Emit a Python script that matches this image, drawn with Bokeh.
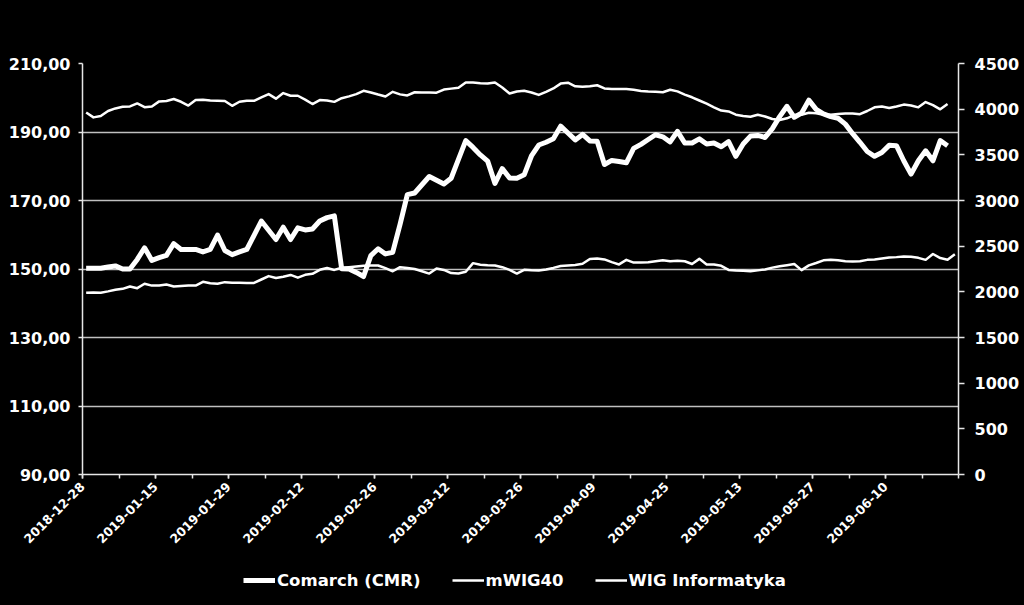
from bokeh.plotting import figure
from bokeh.layouts import column
from bokeh.models import Range1d, LinearAxis, FixedTicker, Legend, LegendItem
from bokeh.embed import file_html
from bokeh.resources import INLINE

# ---- data (trading-day index based category axis) ----
tick_dates = ["2018-12-28", "2019-01-15", "2019-01-29", "2019-02-12", "2019-02-26",
              "2019-03-12", "2019-03-26", "2019-04-09", "2019-04-25", "2019-05-13",
              "2019-05-27", "2019-06-10"]

series_names = ["Comarch (CMR)", "mWIG40", "WIG Informatyka"]

comarch = [150.2, 150.2, 150.2, 150.6, 150.9, 150.0, 150.0, 152.8, 156.2, 152.5,
           153.3, 154.0, 157.4, 155.7, 155.7, 155.7, 155.0, 155.7, 159.9, 155.4,
           154.2, 155.0, 155.7, 159.8, 164.0, 161.3, 158.6, 162.2, 158.6, 162.0,
           161.4, 161.7, 164.0, 165.0, 165.5, 150.1, 150.0, 149.0, 147.8, 153.9,
           155.9, 154.4, 154.9, 163.0, 171.7, 172.2, 174.6, 177.0, 175.9, 174.8,
           176.5, 182.0, 187.5, 185.5, 183.3, 181.5, 175.0, 179.3, 176.6, 176.5,
           177.5, 183.0, 186.2, 187.0, 188.0, 191.7, 189.7, 187.7, 189.3, 187.4,
           187.3, 180.5, 181.7, 181.4, 181.0, 185.2, 186.4, 187.8, 189.2, 188.6,
           187.1, 190.2, 186.8, 186.8, 188.0, 186.5, 186.8, 185.7, 187.2, 182.9,
           186.5, 188.8, 189.0, 188.4, 191.0, 194.5, 197.5, 194.3, 195.5, 199.3,
           196.6, 195.3, 194.5, 194.0, 192.3, 189.5, 187.0, 184.3, 182.9, 184.0,
           186.1, 186.0, 181.6, 177.7, 181.6, 184.5, 181.6, 187.5, 186.0]

mwig40 = [3964, 3910, 3925, 3980, 4008, 4026, 4030, 4063, 4022, 4030,
          4085, 4090, 4111, 4081, 4040, 4100, 4103, 4095, 4092, 4090,
          4037, 4081, 4092, 4092, 4130, 4165, 4115, 4176, 4147, 4147,
          4105, 4056, 4100, 4095, 4080, 4120, 4140, 4165, 4201, 4183,
          4160, 4139, 4190, 4162, 4150, 4185, 4183, 4183, 4180, 4215,
          4225, 4235, 4292, 4292, 4285, 4281, 4292, 4238, 4172, 4194,
          4201, 4183, 4156, 4190, 4227, 4280, 4290, 4250, 4245, 4250,
          4262, 4227, 4220, 4220, 4220, 4212, 4200, 4194, 4190, 4185,
          4212, 4195, 4160, 4130, 4095, 4060, 4020, 3985, 3975, 3940,
          3925, 3917, 3939, 3920, 3892, 3881, 3900, 3935, 3939, 3960,
          3955, 3939, 3940, 3947, 3953, 3953, 3945, 3980, 4020, 4030,
          4012, 4030, 4050, 4040, 4020, 4078, 4045, 3998, 4056]

wig_informatyka = [1990, 1993, 1990, 2005, 2022, 2033, 2059, 2040, 2088, 2068,
                   2070, 2080, 2059, 2065, 2070, 2068, 2110, 2095, 2088, 2106,
                   2100, 2100, 2098, 2098, 2135, 2172, 2152, 2165, 2185, 2155,
                   2186, 2197, 2241, 2260, 2240, 2263, 2270, 2278, 2285, 2288,
                   2288, 2260, 2225, 2270, 2262, 2250, 2226, 2200, 2255, 2240,
                   2205, 2200, 2220, 2314, 2296, 2290, 2288, 2270, 2240, 2200,
                   2241, 2236, 2234, 2245, 2262, 2282, 2288, 2295, 2307, 2360,
                   2365, 2355, 2325, 2300, 2350, 2320, 2320, 2325, 2335, 2345,
                   2335, 2340, 2335, 2305, 2361, 2299, 2300, 2285, 2240, 2234,
                   2230, 2226, 2235, 2245, 2265, 2280, 2292, 2305, 2238, 2290,
                   2316, 2345, 2350, 2345, 2335, 2333, 2335, 2350, 2355, 2365,
                   2375, 2380, 2388, 2385, 2372, 2350, 2414, 2370, 2352, 2412]

left_ticks = [90, 110, 130, 150, 170, 190, 210]
right_ticks = [0, 500, 1000, 1500, 2000, 2500, 3000, 3500, 4000, 4500]
n_categories = 120

FONT = "DejaVu Sans"
WHITE = "#ffffff"
GRID = "#c0c0c0"
AXIS = "#e6e6e6"
WIDTHS = [5, 2.5, 2.5]

p = figure(width=1024, height=555, output_backend="svg", toolbar_location=None,
           x_range=Range1d(0, n_categories), y_range=Range1d(left_ticks[0], left_ticks[-1]),
           min_border_left=82, min_border_right=66, min_border_top=63, min_border_bottom=81,
           background_fill_color="#000000", border_fill_color="#000000",
           outline_line_color=None)
p.extra_y_ranges = {"right": Range1d(right_ticks[0], right_ticks[-1])}

# category centres (Excel "between tick marks")
def centres(series):
    return [i + 0.5 for i in range(len(series))]

p.line(centres(comarch), comarch, line_color=WHITE, line_width=WIDTHS[0], line_join="round")
p.line(centres(mwig40), mwig40, line_color=WHITE, line_width=WIDTHS[1],
       line_join="round", y_range_name="right")
p.line(centres(wig_informatyka), wig_informatyka, line_color=WHITE, line_width=WIDTHS[2],
       line_join="round", y_range_name="right")

# ---- axes ----
xaxis = p.xaxis[0]
xaxis.ticker = FixedTicker(ticks=[i * 10 for i in range(len(tick_dates))],
                           minor_ticks=list(range(0, n_categories + 1, 5)))
xaxis.major_label_overrides = {i * 10: d for i, d in enumerate(tick_dates)}
xaxis.major_label_orientation = 0.785398
xaxis.major_label_text_font_size = "12.5px"
xaxis.major_label_standoff = 6
xaxis.major_tick_out = 4
xaxis.major_tick_in = 0
xaxis.minor_tick_out = 4
xaxis.minor_tick_in = 0
xaxis.minor_tick_line_color = AXIS
xaxis.minor_tick_line_width = 1.5

yaxis = p.yaxis[0]
yaxis.ticker = FixedTicker(ticks=left_ticks)
yaxis.major_label_overrides = {v: f"{v},00" for v in left_ticks}
yaxis.major_label_text_font_size = "16px"
yaxis.major_label_standoff = 8
yaxis.major_tick_out = 4
yaxis.major_tick_in = 0
yaxis.minor_tick_line_color = None

raxis = LinearAxis(y_range_name="right", ticker=FixedTicker(ticks=right_ticks))
raxis.major_label_text_font_size = "16px"
raxis.major_label_standoff = 10
raxis.major_tick_out = 6
raxis.major_tick_in = 0
raxis.minor_tick_line_color = None
p.add_layout(raxis, "right")

for ax in (xaxis, yaxis, raxis):
    ax.axis_line_color = AXIS
    ax.axis_line_width = 1.5
    ax.major_tick_line_color = AXIS
    ax.major_tick_line_width = 1.5
    ax.major_label_text_color = WHITE
    ax.major_label_text_font = FONT
    ax.major_label_text_font_style = "bold"

p.xgrid.grid_line_color = None
p.ygrid.ticker = FixedTicker(ticks=left_ticks)
p.ygrid.grid_line_color = GRID
p.ygrid.grid_line_width = 1.5

# ---- legend strip (separate small figure under the chart) ----
lg = figure(width=1024, height=50, output_backend="svg", toolbar_location=None,
            x_range=Range1d(0, 1), y_range=Range1d(0, 1),
            x_axis_location=None, y_axis_location=None,
            min_border=0, background_fill_color="#000000", border_fill_color="#000000",
            outline_line_color=None)
lg.xgrid.visible = False
lg.ygrid.visible = False
nan = float("nan")
swatches = [lg.line([nan], [nan], line_color=WHITE, line_width=w) for w in WIDTHS]
legend = Legend(items=[LegendItem(label=n, renderers=[r]) for n, r in zip(series_names, swatches)],
                orientation="horizontal", location=(161, 15),
                glyph_width=32, glyph_height=20, label_standoff=2, spacing=31,
                padding=0, margin=0, border_line_color=None,
                background_fill_alpha=0,
                label_text_color=WHITE, label_text_font=FONT,
                label_text_font_style="bold", label_text_font_size="16.5px")
lg.add_layout(legend)

layout = column(p, lg, spacing=0)

html = file_html(layout, INLINE, title="Comarch vs mWIG40 vs WIG Informatyka")
html = html.replace("</head>", "<style>html,body{background:#000000;}</style></head>", 1)
open("out.html", "w").write(html)
